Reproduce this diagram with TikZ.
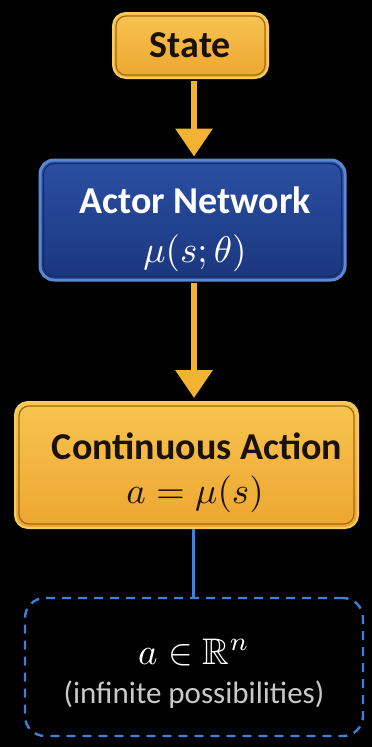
\documentclass[tikz,border=0pt]{standalone}
\usepackage{fontspec}
\usepackage{amssymb}
\usepackage{graphicx}
\setmainfont{Carlito}
\usetikzlibrary{arrows.meta}

\definecolor{bg}{HTML}{000000}
\definecolor{goldtop}{HTML}{F8C451}
\definecolor{goldbot}{HTML}{EDA630}
\definecolor{goldrim}{HTML}{F6CB63}
\definecolor{goldline}{HTML}{A06A12}
\definecolor{bluetop}{HTML}{2B4FA2}
\definecolor{bluebot}{HTML}{1B367F}
\definecolor{bluerim}{HTML}{5B88D4}
\definecolor{blueline}{HTML}{152C68}
\definecolor{arrowgold}{HTML}{F2B232}
\definecolor{linkblue}{HTML}{3C82D8}
\definecolor{darktext}{HTML}{1A1208}
\definecolor{softgray}{HTML}{C9C9C9}

% large formula: math set at 10pt and scaled up
\newcommand{\bigmath}[1]{\scalebox{3.7}{$#1$}}

\tikzset{
  goldbox/.style={draw=goldrim, line width=2pt, rounded corners=13pt,
    top color=goldtop, bottom color=goldbot, inner sep=0pt},
  goldinner/.style={draw=goldline, line width=1.2pt, rounded corners=10pt},
  bluebox/.style={draw=bluerim, line width=3pt, rounded corners=14pt,
    top color=bluetop, bottom color=bluebot, inner sep=0pt},
  blueinner/.style={draw=blueline, line width=1.2pt, rounded corners=11pt},
  dashbox/.style={draw=linkblue, line width=2.4pt, dash pattern=on 9pt off 7pt,
    rounded corners=20pt, fill=bg, inner sep=0pt},
  flowarrow/.style={draw=arrowgold, line width=6.5pt,
    -{Triangle[width=36pt,length=28pt]}},
  link/.style={draw=linkblue, line width=3pt},
  title/.style={font=\fontsize{38}{44}\selectfont\bfseries, inner sep=0pt},
  formula/.style={inner sep=0pt},
  note/.style={font=\fontsize{31}{36}\selectfont, inner sep=0pt},
}

\begin{document}
\begin{tikzpicture}[x=1pt,y=1pt]
  \fill[bg] (0,0) rectangle (372,-747);
  \useasboundingbox (0,0) rectangle (372,-747);

  % state
  \node[goldbox, minimum width=155pt, minimum height=65pt] (state) at (190.5,-45.5) {};
  \draw[goldinner] ([shift={(4pt,-4pt)}]state.north west) rectangle ([shift={(-4pt,4pt)}]state.south east);
  \node[title, text=darktext] (statetxt) at (state.center) {State};

  % actor network
  \node[bluebox, minimum width=305pt, minimum height=120pt] (actor) at (192.5,-220) {};
  \draw[blueinner] ([shift={(5pt,-5pt)}]actor.north west) rectangle ([shift={(-5pt,5pt)}]actor.south east);
  \node[title, text=white] (actortxt) at (195,-200) {Actor Network};
  \node[formula, text=white] (actormath) at (195,-253) {\bigmath{\mu(s;\theta)}};

  % continuous action
  \node[goldbox, minimum width=343pt, minimum height=126pt] (action) at (186.5,-465) {};
  \draw[goldinner] ([shift={(5pt,-5pt)}]action.north west) rectangle ([shift={(-5pt,5pt)}]action.south east);
  \node[title, text=darktext] (actiontxt) at (197,-446) {Continuous Action};
  \node[formula, text=darktext] (actionmath) at (195,-494) {\bigmath{a = \mu(s)}};

  % action space
  \node[dashbox, minimum width=338pt, minimum height=138pt] (space) at (194,-667) {};
  \node[formula, text=white] (spacemath) at (194,-652) {\bigmath{a \in \mathbb{R}^n}};
  \node[note, text=softgray] (spacetxt) at (194,-695) {(infinite possibilities)};

  % connectors
  \draw[flowarrow] (state.south -| 194,0) ++(0,-1.5) -- ([yshift=2pt]actor.north -| 194,0);
  \draw[flowarrow] (actor.south -| 194,0) ++(0,-1.5) -- ([yshift=3pt]action.north -| 194,0);
  \draw[link] (action.south -| 193,0) -- (space.north -| 193,0);
\end{tikzpicture}
\end{document}
